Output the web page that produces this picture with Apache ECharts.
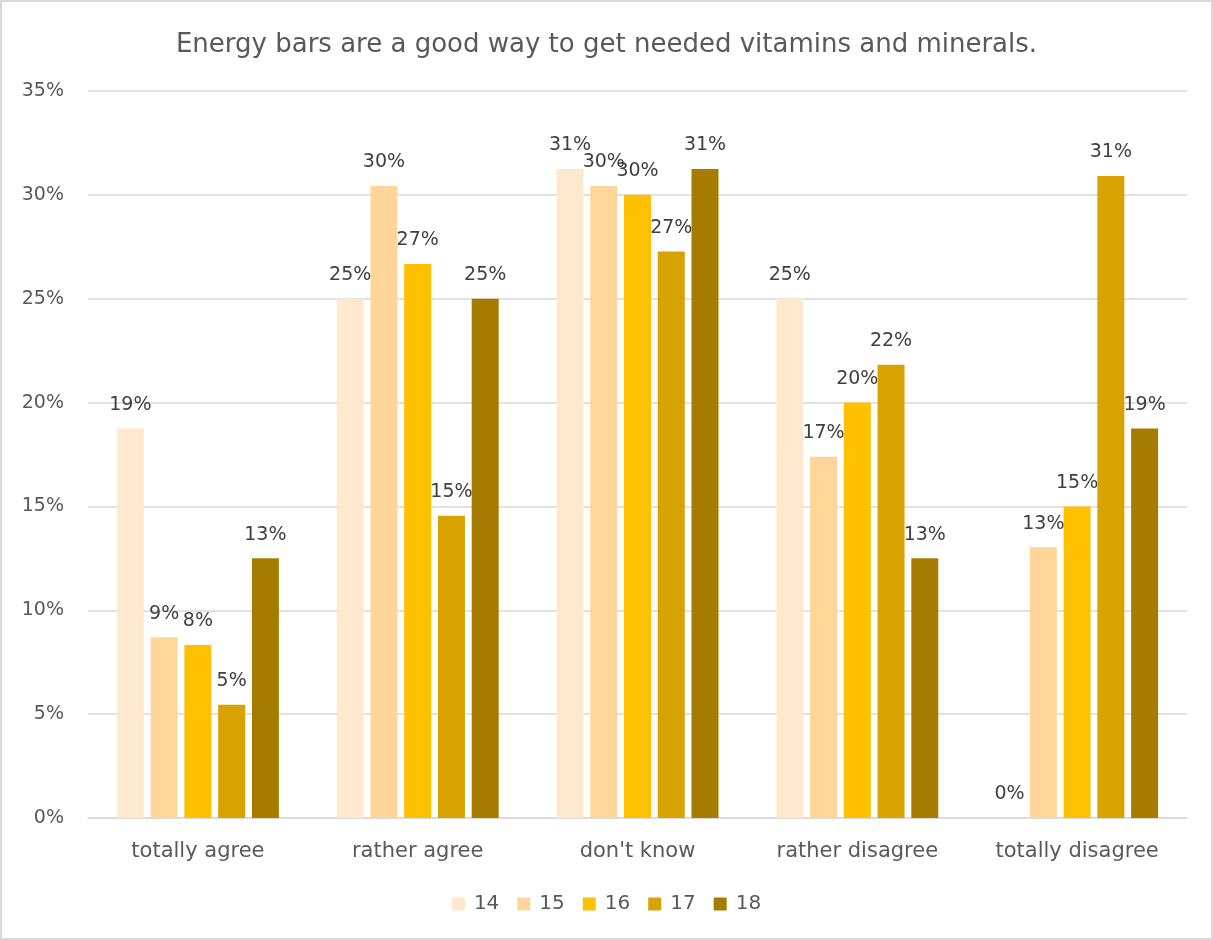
<!DOCTYPE html>
<html><head><meta charset="utf-8">
<script src="https://cdn.jsdelivr.net/npm/echarts@6/dist/echarts.min.js"></script>
<style>
html,body{margin:0;padding:0;background:#fff;}
#frame{position:absolute;left:0;top:0;width:1209px;height:936px;border:2px solid #d9d9d9;}
#chart{position:absolute;left:0;top:0;width:1213px;height:940px;}
</style></head>
<body><div id="frame"></div><div id="chart"></div>
<script>
const categories = ["totally agree", "rather agree", "don't know", "rather disagree", "totally disagree"];
const seriesNames = ["14", "15", "16", "17", "18"];
const s14 = [18.75, 25, 31.25, 25, 0];
const s15 = [8.7, 30.43, 30.43, 17.39, 13.04];
const s16 = [8.33, 26.67, 30, 20, 15];
const s17 = [5.45, 14.55, 27.27, 21.82, 30.91];
const s18 = [12.5, 25, 31.25, 12.5, 18.75];
const yTicks = [0, 5, 10, 15, 20, 25, 30, 35];
const colors = ["#FFE9CE", "#FFD699", "#FFC000", "#D8A200", "#A67C00"];
const FONT = "DejaVu Sans";
const allData = [s14, s15, s16, s17, s18];
const chart = echarts.init(document.getElementById('chart'));
chart.setOption({
  animation: false,
  color: colors,
  title: {text: "Energy bars are a good way to get needed vitamins and minerals.", left: 'center', top: 27,
    textStyle: {fontFamily: FONT, fontSize: 26, fontWeight: 'normal', color: '#595959'}},
  grid: {left: 88, right: 26, top: 91, bottom: 122},
  legend: {data: seriesNames, bottom: 21, itemWidth: 13, itemHeight: 13, itemGap: 18, icon: 'rect',
    textStyle: {fontFamily: FONT, fontSize: 20, color: '#595959', padding: [0, 0, 0, 4]}},
  xAxis: {type: 'category', data: categories,
    axisLine: {lineStyle: {color: '#d9d9d9', width: 1.5}}, axisTick: {show: false},
    axisLabel: {fontFamily: FONT, fontSize: 21, color: '#595959', margin: 23}},
  yAxis: {type: 'value', min: yTicks[0], max: yTicks[yTicks.length-1], interval: 5,
    axisLine: {show: false}, axisTick: {show: false},
    axisLabel: {formatter: '{value}%', fontFamily: FONT, fontSize: 19, color: '#595959', margin: 24},
    splitLine: {lineStyle: {color: '#d9d9d9', width: 1.5}}},
  series: seriesNames.map((n, i) => ({
    name: n, type: 'bar', data: allData[i], barWidth: 27, barGap: '25%', barCategoryGap: '26%',
    label: {show: true, position: 'top', distance: 14, fontFamily: FONT, fontSize: 19, color: '#404040',
      formatter: p => Math.round(p.value) + '%'}
  }))
});
</script></body></html>
